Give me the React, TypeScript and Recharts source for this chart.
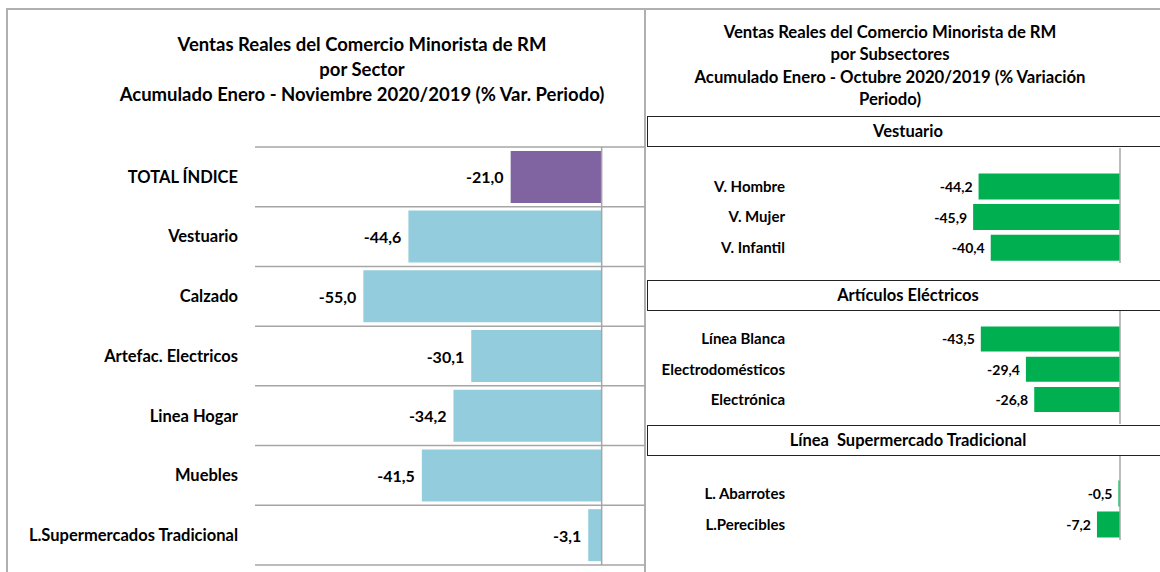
import { BarChart, Bar, XAxis, YAxis, CartesianGrid, ReferenceLine, Cell, LabelList } from 'recharts';

const FONT = 'Lato, "Open Sans", sans-serif';

// Panel izquierdo: por sector
const sectores = [
  'TOTAL ÍNDICE',
  'Vestuario',
  'Calzado',
  'Artefac. Electricos',
  'Linea Hogar',
  'Muebles',
  'L.Supermercados Tradicional',
];
const variacionSector = [-21.0, -44.6, -55.0, -30.1, -34.2, -41.5, -3.1];

// Panel derecho: por subsectores
const vestuarioSub = ['V. Hombre', 'V. Mujer', 'V. Infantil'];
const vestuarioVar = [-44.2, -45.9, -40.4];

const electricosSub = ['Línea Blanca', 'Electrodomésticos', 'Electrónica'];
const electricosVar = [-43.5, -29.4, -26.8];

const supermercadoSub = ['L. Abarrotes', 'L.Perecibles'];
const supermercadoVar = [-0.5, -7.2];

const PURPLE = '#8064a2';
const LIGHT_BLUE = '#93cddd';
const GREEN = '#00b050';
const GRID = '#a6a6a6';

const fmt = (v: number) => v.toFixed(1).replace('.', ',');

// etiqueta de valor a la izquierda del extremo de la barra
const makeValueLabel = (size: number, gap: number) => (props: any) => {
  const { x, y, width, height, value } = props;
  const left = Math.min(x, x + width);
  return (
    <text
      x={left - gap}
      y={y + height / 2}
      textAnchor="end"
      dominantBaseline="central"
      fontFamily={FONT}
      fontWeight={700}
      fontSize={size}
      fill="#000"
    >
      {fmt(Number(value))}
    </text>
  );
};

const SectorLabel = makeValueLabel(16, 7);
const SubLabel = makeValueLabel(14, 6);

function SectorChart() {
  const data = sectores.map((s, i) => ({ name: s, value: variacionSector[i] }));
  const n = data.length;
  return (
    <BarChart
      width={645}
      height={572}
      data={data}
      layout="vertical"
      margin={{ top: 147, right: 0, bottom: 7, left: 0 }}
      barCategoryGap="6.5%"
    >
      <CartesianGrid
        vertical={false}
        stroke={GRID}
        strokeWidth={1.5}
        horizontalCoordinatesGenerator={({ offset }: any) =>
          Array.from({ length: n + 1 }, (_, i) => offset.top + (i * offset.height) / n)
        }
      />
      <XAxis type="number" domain={[-80, 10]} hide />
      <YAxis
        type="category"
        dataKey="name"
        width={255}
        axisLine={false}
        tickLine={false}
        tickMargin={11}
        tick={{ fill: '#000', fontSize: 16.5, fontWeight: 700, fontFamily: FONT }}
        interval={0}
      />
      <ReferenceLine x={0} stroke={GRID} strokeWidth={1.5} />
      <Bar dataKey="value" isAnimationActive={false}>
        {data.map((d, i) => (
          <Cell key={d.name} fill={i === 0 ? PURPLE : LIGHT_BLUE} />
        ))}
        <LabelList dataKey="value" content={SectorLabel} />
      </Bar>
    </BarChart>
  );
}

interface SubProps {
  names: string[];
  values: number[];
  top: number;
  height: number;
  padTop: number;
  padBottom: number;
}

function SubChart({ names, values, top, height, padTop, padBottom }: SubProps) {
  const data = names.map((s, i) => ({ name: s, value: values[i] }));
  return (
    <div style={{ position: 'absolute', left: 648, top }}>
      <BarChart
        width={512}
        height={height}
        data={data}
        layout="vertical"
        margin={{ top: 0, right: 0, bottom: 0, left: 0 }}
        barCategoryGap="8%"
      >
        <XAxis type="number" domain={[-100, 12.5]} hide />
        <YAxis
          type="category"
          dataKey="name"
          width={152}
          axisLine={false}
          tickLine={false}
          tickMargin={9}
          tick={{ fill: '#000', fontSize: 15, fontWeight: 700, fontFamily: FONT }}
          interval={0}
          padding={{ top: padTop, bottom: padBottom }}
        />
        <ReferenceLine x={0} stroke={GRID} strokeWidth={1.5} />
        <Bar dataKey="value" fill={GREEN} isAnimationActive={false}>
          <LabelList dataKey="value" content={SubLabel} />
        </Bar>
      </BarChart>
    </div>
  );
}

function SectionBox({ title, top }: { title: string; top: number }) {
  return (
    <div
      style={{
        position: 'absolute',
        left: 647,
        top,
        width: 540,
        height: 31,
        border: '1.5px solid #222',
        boxSizing: 'border-box',
        fontFamily: FONT,
        fontWeight: 700,
        fontSize: 16.5,
        lineHeight: '28px',
        textAlign: 'center',
        paddingRight: 18,
        whiteSpace: 'pre',
        color: '#000',
      }}
    >
      {title}
    </div>
  );
}

export default function App() {
  return (
    <div
      style={{
        position: 'absolute',
        left: 0,
        top: 0,
        width: 1160,
        height: 572,
        overflow: 'hidden',
        background: '#fff',
        fontFamily: FONT,
      }}
    >
      {/* marco */}
      <div style={{ position: 'absolute', left: 6, top: 8, width: 1160, height: 2, background: '#b0b0b0' }} />
      <div style={{ position: 'absolute', left: 6, top: 8, width: 2, height: 570, background: '#b0b0b0' }} />
      <div style={{ position: 'absolute', left: 644, top: 8, width: 2, height: 570, background: '#b0b0b0' }} />

      <div
        style={{
          position: 'absolute',
          left: 60,
          width: 604,
          top: 32,
          textAlign: 'center',
          fontWeight: 700,
          fontSize: 18.5,
          lineHeight: '25px',
          color: '#000',
        }}
      >
        <div>Ventas Reales del Comercio Minorista de RM</div>
        <div>por Sector</div>
        <div>Acumulado Enero - Noviembre 2020/2019 (% Var. Periodo)</div>
      </div>

      <div style={{ position: 'absolute', left: 0, top: 0 }}>
        <SectorChart />
      </div>

      <div
        style={{
          position: 'absolute',
          left: 640,
          width: 500,
          top: 21,
          textAlign: 'center',
          fontWeight: 700,
          fontSize: 16.7,
          lineHeight: '22.4px',
          color: '#000',
        }}
      >
        <div>Ventas Reales del Comercio Minorista de RM</div>
        <div>por Subsectores</div>
        <div>Acumulado Enero - Octubre 2020/2019 (% Variación</div>
        <div>Periodo)</div>
      </div>

      <SectionBox title="Vestuario" top={116} />
      <SubChart names={vestuarioSub} values={vestuarioVar} top={148} height={115} padTop={23} padBottom={0} />

      <SectionBox title="Artículos Eléctricos" top={280} />
      <SubChart names={electricosSub} values={electricosVar} top={311} height={113} padTop={13} padBottom={9} />

      <SectionBox title="Línea  Supermercado Tradicional" top={425} />
      <SubChart names={supermercadoSub} values={supermercadoVar} top={456} height={84} padTop={22} padBottom={0} />
    </div>
  );
}
